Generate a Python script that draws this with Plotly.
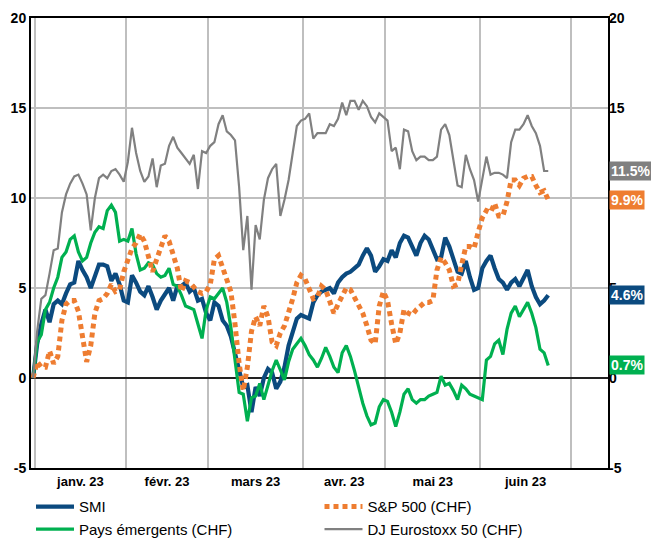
import pandas as pd
import plotly.graph_objects as go

# ---- data (cumulative performance since 30.12.2022, in %) ----
start_date = "2022-12-30"
n_points = 126          # trading days shown
axis_days = 140         # trading days covered by the x axis

month_labels = ["janv. 23", "févr. 23", "mars 23", "avr. 23", "mai 23", "juin 23"]
y_ticks = [-5, 0, 5, 10, 15, 20]

smi = [0, 1.9, 3.0, 3.8, 3.1, 4.1, 4.3, 4.1, 4.7, 5.2,
       5.3, 6.5, 6.0, 5.6, 5.0, 5.7, 6.3, 6.3, 6.2, 5.4,
       5.8, 5.2, 4.3, 4.2, 5.7, 5.3, 4.8, 4.6, 5.1, 4.5,
       3.8, 4.3, 4.7, 5.0, 4.3, 5.1, 5.1, 5.3, 4.8, 5.0,
       4.3, 4.4, 3.6, 3.2, 4.2, 4.0, 3.2, 2.9, 2.3, 1.4,
       0.3, -0.5, -0.4, -1.9, -0.5, -1.0, 0.0, 0.5, 0.3, -0.6,
       -0.2, 0.6, 1.8, 2.6, 3.3, 3.5, 3.4, 3.3, 4.2, 4.6,
       4.8, 4.9, 5.0, 4.7, 5.3, 5.6, 5.8, 5.9, 6.1, 6.3,
       6.8, 7.2, 6.8, 5.9, 6.2, 6.6, 6.5, 7.1, 6.7, 7.5,
       7.9, 7.8, 7.3, 6.8, 7.5, 7.9, 7.7, 7.2, 6.6, 6.7,
       7.8, 7.3, 6.6, 5.9, 5.8, 6.5, 5.6, 4.9, 5.0, 6.1,
       6.5, 6.8, 6.1, 5.5, 5.3, 4.9, 5.3, 5.5, 5.1, 5.5,
       6.0, 5.1, 4.5, 4.1, 4.3, 4.6]

sp500 = [0, 0.9, 0.6, 0.6, 1.5, 0.8, 1.2, 3.2, 4.1, 4.3,
         4.3, 3.7, 2.3, 0.9, 1.8, 3.6, 4.3, 4.4, 4.7, 5.2,
         4.8, 4.9, 5.9, 6.6, 7.2, 7.5, 8.0, 7.6, 6.8, 5.9,
         6.6, 7.2, 7.9, 7.6, 6.8, 6.1, 4.8, 5.4, 5.3, 5.0,
         4.8, 4.7, 4.8, 5.2, 6.6, 6.8, 6.1, 5.6, 4.8, 3.0,
         0.8, -0.7, 0.6, 2.6, 3.4, 2.9, 4.0, 3.4, 2.0, 1.8,
         2.5, 2.9, 3.6, 4.4, 5.3, 5.7, 5.5, 4.9, 4.4, 4.5,
         5.1, 4.9, 4.3, 3.6, 4.1, 4.5, 5.0, 4.9, 4.5, 4.0,
         3.6, 2.9, 2.1, 1.9, 4.0, 4.8, 4.3, 3.0, 1.9, 2.5,
         3.8, 3.6, 3.5, 3.8, 4.0, 4.2, 4.2, 4.3, 6.0, 6.7,
         6.4, 6.0, 5.1, 5.2, 6.3, 7.3, 7.3, 7.2, 8.1, 8.9,
         9.3, 9.2, 9.7, 9.0, 9.0, 9.8, 11.0, 11.0, 10.7, 11.1,
         11.2, 11.2, 10.7, 10.3, 10.4, 9.9]

emerging = [0, 2.0, 2.4, 3.8, 4.2, 5.0, 5.6, 6.7, 7.0, 7.7,
            7.9, 7.0, 6.5, 6.7, 7.5, 8.1, 8.4, 8.3, 9.3, 9.6,
            9.2, 7.6, 7.7, 7.6, 8.3, 6.9, 6.0, 6.1, 6.4, 6.3,
            5.8, 5.6, 5.7, 6.1, 5.2, 5.1, 4.6, 4.0, 3.9, 3.8,
            3.0, 2.2, 3.8, 4.5, 4.4, 4.7, 5.0, 4.2, 2.8, 1.0,
            -0.8, -0.9, -2.4, -1.1, -1.0, -0.3, -1.2, -0.4, 0.4, 1.0,
            0.5, -0.1, 0.9, 1.6, 1.9, 2.2, 1.8, 1.3, 1.0, 0.6,
            1.1, 1.7, 1.2, 0.6, 0.3, 1.4, 1.8, 1.2, 0.4, -0.5,
            -1.4, -2.1, -2.6, -2.5, -1.6, -1.2, -1.3, -1.9, -2.7, -1.9,
            -0.9, -0.6, -1.2, -1.4, -1.2, -1.2, -1.0, -0.9, -0.8, 0.1,
            -0.4, -0.3, -0.7, -1.2, -0.4, -0.6, -0.9, -1.0, -1.1, -1.2,
            1.0, 1.2, 1.9, 2.1, 1.3, 2.7, 3.6, 4.0, 3.4, 3.8,
            4.2, 3.6, 2.8, 1.6, 1.4, 0.7]

eurostoxx = [0, 2.6, 4.4, 4.6, 5.8, 7.1, 7.2, 9.2, 10.2, 10.8,
             11.2, 11.3, 10.8, 10.2, 8.2, 10.0, 11.1, 11.3, 11.1, 11.5,
             11.6, 11.3, 10.9, 12.0, 13.9, 12.5, 11.5, 10.9, 11.2, 12.2,
             10.6, 11.8, 11.9, 12.9, 13.4, 12.8, 12.5, 12.2, 11.9, 12.4,
             10.5, 12.6, 12.5, 12.9, 13.1, 14.1, 14.6, 13.7, 13.5, 13.2,
             10.6, 7.1, 9.0, 4.9, 8.5, 7.7, 9.9, 11.1, 11.6, 11.9,
             9.0, 9.9, 11.0, 12.5, 14.0, 14.3, 14.4, 14.7, 13.3, 13.6,
             13.6, 13.6, 14.1, 14.0, 14.4, 15.3, 14.6, 15.4, 15.4, 14.9,
             15.4, 15.1, 14.5, 14.2, 14.7, 14.5, 14.3, 12.6, 12.8, 11.6,
             13.8, 13.7, 12.6, 12.1, 12.3, 12.3, 12.1, 12.1, 12.3, 13.8,
             14.1, 13.5, 12.2, 10.7, 10.6, 12.4, 11.6, 11.0, 9.8, 11.0,
             12.3, 11.3, 11.4, 11.4, 11.3, 11.1, 13.1, 13.8, 13.8, 14.1,
             14.6, 14.0, 13.6, 12.9, 11.5, 11.5]

# ---- styling ----
C_SMI = "#0B4A7F"
C_SP = "#EE7D31"
C_EM = "#00B050"
C_DJ = "#808080"
GRID = "#BFBFBF"
FONT = "Liberation Sans, Arial, sans-serif"

dates = pd.bdate_range(start_date, periods=n_points)
axis_dates = pd.bdate_range(start_date, periods=axis_days)
x = list(range(len(dates)))

# month boundaries (gridlines) and month centres (labels) on the trading-day axis
bounds = [i - 0.5 for i in range(1, len(axis_dates))
          if axis_dates[i].month != axis_dates[i - 1].month]
centres = [(a + b) / 2 for a, b in zip(bounds[:-1], bounds[1:])]

fig = go.Figure()
series = [
    ("DJ Eurostoxx 50 (CHF)", eurostoxx, C_DJ, 2.2, "solid", 4, "y2"),
    ("SMI", smi, C_SMI, 4.2, "solid", 1, "y"),
    ("Pays émergents (CHF)", emerging, C_EM, 3.2, "solid", 3, "y"),
    ("S&P 500 (CHF)", sp500, C_SP, 5, "5px,4px", 2, "y"),
]
for name, vals, col, w, dash, rank, yax in series:
    fig.add_trace(go.Scatter(
        x=x, y=vals, name=name, mode="lines", yaxis=yax,
        line=dict(color=col, width=w, dash=dash),
        legendrank=rank, hoverinfo="skip"))

# end-value labels
for name, vals, col, w, dash, rank, yax in series:
    fig.add_annotation(
        x=1, xref="paper", xanchor="left", xshift=1, y=vals[-1], yref="y",
        text=f"{vals[-1]:.1f}%", showarrow=False,
        font=dict(family=FONT, size=14, color="white", weight="bold"),
        bgcolor=col, borderpad=1)

fig.update_layout(
    width=651, height=540,
    margin=dict(l=31, r=43, t=18, b=72, autoexpand=False),
    paper_bgcolor="white", plot_bgcolor="white",
    font=dict(family=FONT, color="black"),
    showlegend=True,
    legend=dict(orientation="h", x=0.0, xanchor="left",
                y=0.092, yref="container", yanchor="top",
                entrywidthmode="fraction", entrywidth=0.5,
                font=dict(size=15, family=FONT), itemwidth=38,
                tracegroupgap=0, bgcolor="rgba(0,0,0,0)"),
    xaxis=dict(range=[-0.5, axis_days - 0.5], tickvals=centres, ticktext=month_labels,
               showgrid=False, ticks="", zeroline=False,
               tickfont=dict(size=13, weight="bold", family=FONT),
               showline=True, linecolor="black", linewidth=2, mirror=True,
               minor=dict(tickvals=bounds, showgrid=True, gridcolor=GRID, gridwidth=2)),
    yaxis=dict(range=[-5, 20], tickvals=y_ticks, ticktext=[str(v) for v in y_ticks],
               showgrid=True, gridcolor=GRID, gridwidth=2, ticks="",
               zeroline=True, zerolinecolor="#222222", zerolinewidth=1.5,
               showline=True, linecolor="black", linewidth=2, mirror=True,
               tickfont=dict(size=14, weight="bold", family=FONT)),
    yaxis2=dict(range=[-5, 20], overlaying="y", side="right", matches="y",
                tickvals=y_ticks, ticktext=[str(v) for v in y_ticks],
                showgrid=False, zeroline=False, showline=False, ticks="",
                tickfont=dict(size=14, weight="bold", family=FONT)),
)

fig.write_html("out.html")
